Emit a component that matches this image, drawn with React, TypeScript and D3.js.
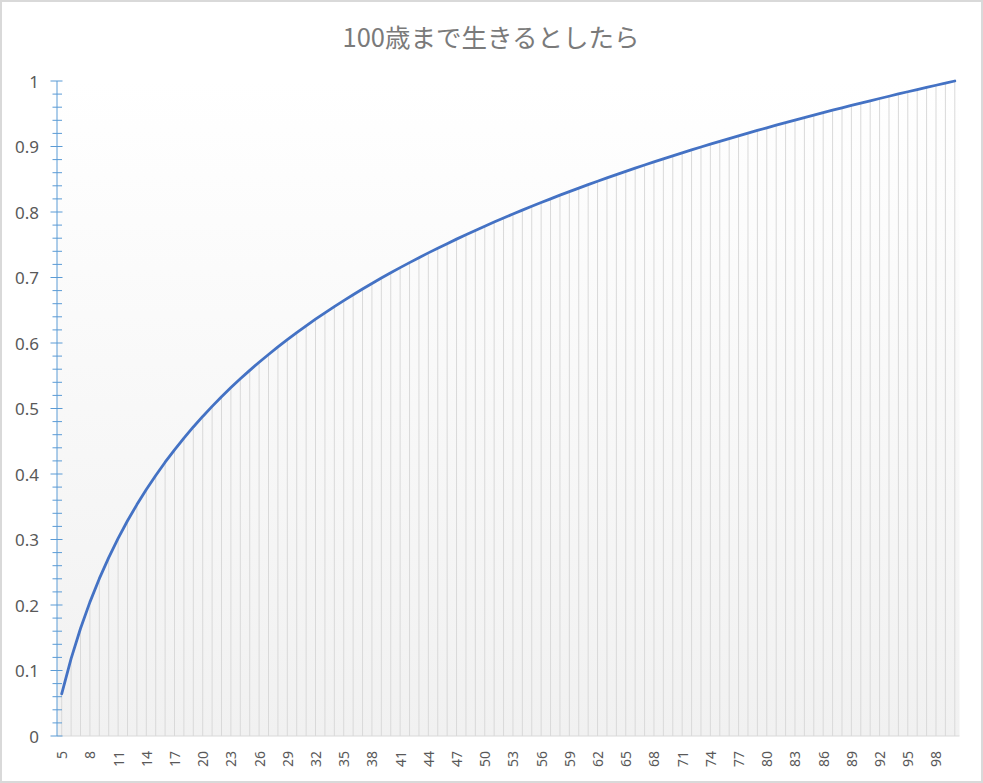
import { scaleBand, scaleLinear, line, range } from 'd3';

const ages = [
  5, 6, 7, 8, 9, 10, 11, 12, 13, 14, 15, 16, 17, 18, 19, 20, 21, 22, 23, 24,
  25, 26, 27, 28, 29, 30, 31, 32, 33, 34, 35, 36, 37, 38, 39, 40, 41, 42, 43, 44,
  45, 46, 47, 48, 49, 50, 51, 52, 53, 54, 55, 56, 57, 58, 59, 60, 61, 62, 63, 64,
  65, 66, 67, 68, 69, 70, 71, 72, 73, 74, 75, 76, 77, 78, 79, 80, 81, 82, 83, 84,
  85, 86, 87, 88, 89, 90, 91, 92, 93, 94, 95, 96, 97, 98, 99, 100,
];

const shares = [
  0.0644, 0.1181, 0.1641, 0.2044, 0.2402, 0.2724, 0.3017, 0.3286, 0.3533, 0.3764,
  0.3978, 0.418, 0.4369, 0.4548, 0.4718, 0.4879, 0.5032, 0.5179, 0.5319, 0.5453,
  0.5582, 0.5706, 0.5825, 0.594, 0.6051, 0.6159, 0.6262, 0.6363, 0.6461, 0.6556,
  0.6648, 0.6737, 0.6824, 0.6909, 0.6992, 0.7072, 0.7151, 0.7227, 0.7302, 0.7376,
  0.7447, 0.7517, 0.7586, 0.7653, 0.7719, 0.7783, 0.7846, 0.7908, 0.7969, 0.8028,
  0.8087, 0.8145, 0.8201, 0.8257, 0.8311, 0.8365, 0.8418, 0.847, 0.8521, 0.8571,
  0.8621, 0.867, 0.8718, 0.8765, 0.8812, 0.8858, 0.8903, 0.8948, 0.8992, 0.9036,
  0.9078, 0.9121, 0.9163, 0.9204, 0.9245, 0.9285, 0.9325, 0.9364, 0.9403, 0.9441,
  0.9479, 0.9517, 0.9554, 0.959, 0.9627, 0.9662, 0.9698, 0.9733, 0.9767, 0.9802,
  0.9836, 0.9869, 0.9902, 0.9935, 0.9968, 1.0,
];

const xTickLabels = [
  5, 8, 11, 14, 17, 20, 23, 26, 29, 32, 35, 38, 41, 44, 47, 50, 53, 56, 59, 62,
  65, 68, 71, 74, 77, 80, 83, 86, 89, 92, 95, 98,
];
const yTickLabels = [0, 0.1, 0.2, 0.3, 0.4, 0.5, 0.6, 0.7, 0.8, 0.9, 1];

const TITLE = '100歳まで生きるとしたら';
const WIDTH = 983;
const HEIGHT = 783;
const PLOT = { left: 57, right: 959.5, top: 81, bottom: 736 };
const TITLE_FONT = '"Noto Sans CJK JP", "Noto Sans", sans-serif';
const NUM_FONT = '"Noto Sans", "Open Sans", sans-serif';

export default function App() {
  const x = scaleBand<number>().domain(ages).range([PLOT.left, PLOT.right]);
  const y = scaleLinear().domain([0, 1]).range([PLOT.bottom, PLOT.top]);
  const cx = (age: number) => (x(age) ?? 0) + x.bandwidth() / 2;

  const points = ages.map((age, i) => ({ age, value: shares[i] }));
  const path = line<{ age: number; value: number }>()
    .x((d) => cx(d.age))
    .y((d) => y(d.value))(points);

  const minorTicks = range(0, 51).map((i) => i / 50);

  return (
    <svg
      width={WIDTH}
      height={HEIGHT}
      viewBox={`0 0 ${WIDTH} ${HEIGHT}`}
      style={{ position: 'absolute', left: 0, top: 0 }}
    >
      <defs>
        <linearGradient id="plotFill" x1="0" y1="0" x2="0" y2="1">
          <stop offset="0%" stopColor="#ffffff" />
          <stop offset="100%" stopColor="#f1f1f1" />
        </linearGradient>
      </defs>

      <rect x={1} y={1} width={WIDTH - 2} height={HEIGHT - 2} fill="#ffffff" stroke="#d9d9d9" strokeWidth={2} />

      <text x={491} y={47} textAnchor="middle" fontSize={25.5} fill="#7a7a7a" fontFamily={TITLE_FONT}>
        {TITLE}
      </text>

      <rect
        x={PLOT.left}
        y={PLOT.top}
        width={PLOT.right - PLOT.left}
        height={PLOT.bottom - PLOT.top}
        fill="url(#plotFill)"
      />

      {/* drop lines */}
      <g stroke="#d9d9d9" strokeWidth={1}>
        {points.map((d) => (
          <line key={d.age} x1={cx(d.age)} x2={cx(d.age)} y1={y(d.value)} y2={PLOT.bottom} />
        ))}
      </g>

      {/* x axis */}
      <line x1={PLOT.left} x2={PLOT.right} y1={PLOT.bottom} y2={PLOT.bottom} stroke="#d9d9d9" strokeWidth={1} />
      <g fill="#595959" fontSize={14} fontFamily={NUM_FONT}>
        {xTickLabels.map((age) => (
          <text
            key={age}
            textAnchor="end"
            dominantBaseline="central"
            transform={`translate(${cx(age)} 751) rotate(-90)`}
          >
            {age}
          </text>
        ))}
      </g>

      {/* y axis */}
      <g stroke="#5b9bd5" strokeWidth={1}>
        <line x1={PLOT.left} x2={PLOT.left} y1={PLOT.top} y2={PLOT.bottom} />
        {minorTicks.map((t, i) =>
          i % 5 === 0 ? null : (
            <line key={`m${i}`} x1={PLOT.left - 4.5} x2={PLOT.left + 5} y1={y(t)} y2={y(t)} />
          ),
        )}
        {yTickLabels.map((t) => (
          <line key={`M${t}`} x1={PLOT.left - 6.5} x2={PLOT.left + 5.5} y1={y(t)} y2={y(t)} />
        ))}
      </g>
      <g fill="#595959" fontSize={17} textAnchor="end" fontFamily={NUM_FONT}>
        {yTickLabels.map((t) => (
          <text key={t} x={39} y={y(t)} dominantBaseline="central">
            {t}
          </text>
        ))}
      </g>

      <path d={path ?? ''} fill="none" stroke="#4472c4" strokeWidth={2.8} strokeLinejoin="round" strokeLinecap="round" />
    </svg>
  );
}
